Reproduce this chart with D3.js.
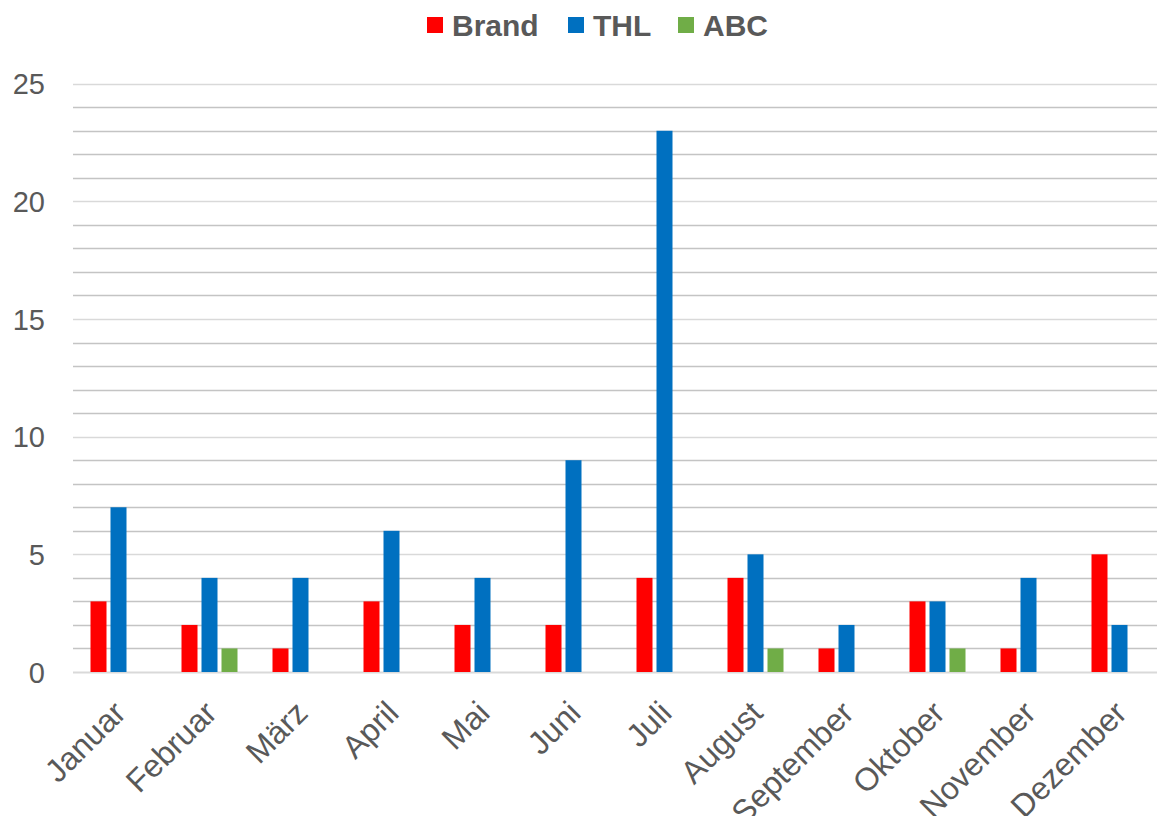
<!DOCTYPE html>
<html>
<head>
<meta charset="utf-8">
<script src="https://cdn.jsdelivr.net/npm/d3@7"></script>
<style>
  body { margin: 0; background: #fff; }
  text { font-family: "Liberation Sans", Arial, sans-serif; fill: #595959; }
</style>
</head>
<body>
<div id="chart"></div>
<script>
// Monate und Serien
const months = ["Januar", "Februar", "März", "April", "Mai", "Juni", "Juli", "August", "September", "Oktober", "November", "Dezember"];
const series = ["Brand", "THL", "ABC"];
const brand = [3, 2, 1, 3, 2, 2, 4, 4, 1, 3, 1, 5];
const thl = [7, 4, 4, 6, 4, 9, 23, 5, 2, 3, 4, 2];
const abc = [0, 1, 0, 0, 0, 0, 0, 1, 0, 1, 0, 0];
const yTicks = [0, 5, 10, 15, 20, 25];
const colors = ["#ff0000", "#0070c0", "#70ad47"];

const values = [brand, thl, abc];
const data = months.map((m, i) => ({ month: m, vals: series.map((s, j) => ({ key: s, value: values[j][i] })) }));

const W = 1157, H = 816;
const plotLeft = 73, plotTop = 83.7, plotBottom = 672;

const svg = d3.select("#chart").append("svg")
  .attr("width", W)
  .attr("height", H);

// Échelles
const x0 = d3.scaleBand()
  .domain(months)
  .range([plotLeft, plotLeft + 91 * months.length])
  .padding(0);

const x1 = d3.scaleBand()
  .domain(series)
  .range([17.5, 73.5])
  .paddingInner(0.2);

const y = d3.scaleLinear()
  .domain([0, 25])
  .range([plotBottom, plotTop]);

const color = d3.scaleOrdinal().domain(series).range(colors);

// Gitterlinien
svg.append("g")
  .selectAll("line")
  .data(d3.range(0, 26))
  .enter()
  .append("line")
  .attr("x1", plotLeft)
  .attr("x2", W)
  .attr("y1", d => Math.round(y(d)) + 0.5)
  .attr("y2", d => Math.round(y(d)) + 0.5)
  .attr("stroke", d => d % 5 === 0 ? "#d9d9d9" : "#c4c4c4")
  .attr("stroke-width", d => d === 0 ? 2 : 1.5);

// Y-Achse
const yAxis = d3.axisLeft(y).tickValues(yTicks).tickSize(0).tickPadding(0);
svg.append("g")
  .attr("transform", "translate(45,0)")
  .call(yAxis)
  .call(g => g.select(".domain").remove())
  .selectAll("text")
  .style("font-size", "29px")
  .attr("dy", "0.35em")
  .style("fill", "#595959");

// Balken
const groups = svg.append("g")
  .selectAll("g")
  .data(data)
  .enter()
  .append("g")
  .attr("transform", d => `translate(${x0(d.month)},0)`);

groups.selectAll("rect")
  .data(d => d.vals.filter(v => v.value > 0))
  .enter()
  .append("rect")
  .attr("x", d => x1(d.key))
  .attr("width", x1.bandwidth())
  .attr("y", d => y(d.value))
  .attr("height", d => y(0) - y(d.value))
  .attr("fill", d => color(d.key));

// X-Achse
const xAxis = d3.axisBottom(x0).tickSize(0).tickPadding(0);
svg.append("g")
  .attr("transform", `translate(0,${plotBottom})`)
  .call(xAxis)
  .call(g => g.select(".domain").remove())
  .selectAll("text")
  .style("font-size", "32px")
  .style("fill", "#595959")
  .style("text-anchor", "end")
  .attr("y", 0)
  .attr("dy", 0)
  .attr("transform", "translate(9,43) rotate(-45)");

// Legende
const legendX = [427, 568, 678];
const legend = svg.append("g")
  .selectAll("g")
  .data(series)
  .enter()
  .append("g")
  .attr("transform", (d, i) => `translate(${legendX[i]},17)`);

legend.append("rect")
  .attr("width", 16)
  .attr("height", 16)
  .attr("fill", d => color(d));

legend.append("text")
  .attr("x", 25)
  .attr("y", 19)
  .style("font-size", "30px")
  .style("font-weight", "bold")
  .text(d => d);
</script>
</body>
</html>
